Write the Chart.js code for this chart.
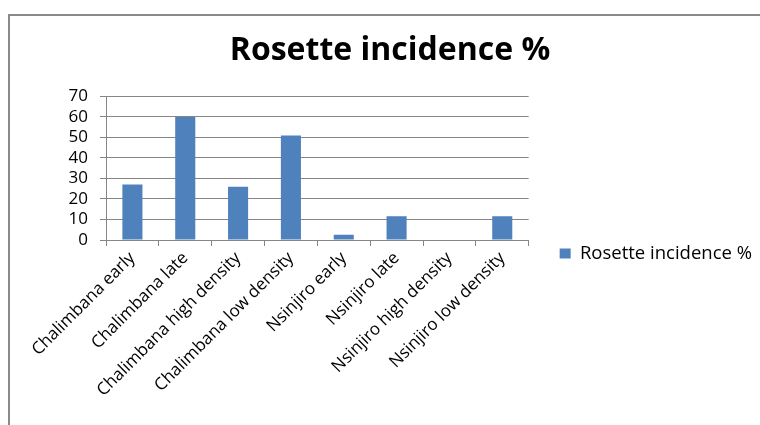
<!DOCTYPE html>
<html>
<head>
<meta charset="utf-8">
<script src="https://cdn.jsdelivr.net/npm/chart.js@4.4.0/dist/chart.umd.min.js"></script>
<style>
  html, body { margin: 0; padding: 0; background: #fff; overflow: hidden; }
  #frame {
    position: absolute; left: 8px; top: 14px; width: 900px; height: 600px;
    border-left: 2px solid #8a8a8a; border-top: 2px solid #8a8a8a;
  }
  #wrap { position: absolute; left: 18px; top: 0; width: 744px; height: 425px; }
</style>
</head>
<body>
<div id="frame"></div>
<div id="wrap"><canvas id="chart"></canvas></div>
<script>
const categories = [
  "Chalimbana early", "Chalimbana late", "Chalimbana high density", "Chalimbana low density",
  "Nsinjiro early", "Nsinjiro late", "Nsinjiro high density", "Nsinjiro low density"
];
const incidence = [27, 60, 26, 51, 2.5, 11.6, 0, 11.6];
const seriesName = "Rosette incidence %";
const yTicks = [0, 10, 20, 30, 40, 50, 60, 70];

const FONT = "'Open Sans', 'Liberation Sans', sans-serif";
const GRID = '#868686';

const ctx = document.getElementById('chart').getContext('2d');

new Chart(ctx, {
  type: 'bar',
  data: {
    labels: categories,
    datasets: [{
      label: seriesName,
      data: incidence,
      backgroundColor: '#4F81BD',
      borderWidth: 0,
      barPercentage: 0.38,
      categoryPercentage: 1
    }]
  },
  options: {
    responsive: true,
    maintainAspectRatio: false,
    animation: false,
    layout: { padding: 0 },
    plugins: {
      title: {
        display: true,
        text: seriesName,
        color: '#000',
        font: { family: FONT, size: 32, weight: 'bold' },
        padding: { top: 32, bottom: 26 }
      },
      legend: {
        position: 'right',
        maxWidth: 280,
        // empty legend title only pushes the entry down
        title: { display: true, text: ' ', font: { size: 10 }, padding: { top: 70, bottom: 0 } },
        labels: {
          color: '#000',
          font: { family: FONT, size: 18.5 },
          boxWidth: 11,
          boxHeight: 10,
          padding: 31
        }
      },
      tooltip: { enabled: false }
    },
    scales: {
      x: {
        afterFit: s => { s.height = 185; },
        grid: {
          offset: true,
          drawOnChartArea: false,
          color: GRID,
          tickLength: 6
        },
        border: { color: GRID },
        ticks: {
          color: '#000',
          font: { family: FONT, size: 17 },
          minRotation: 45,
          maxRotation: 45,
          autoSkip: false,
          padding: 2
        }
      },
      y: {
        min: 0,
        max: 70,
        afterFit: s => { s.width = 88; },
        afterBuildTicks: s => { s.ticks = yTicks.map(v => ({ value: v })); },
        grid: { color: GRID, tickLength: 6 },
        border: { color: GRID },
        ticks: {
          color: '#000',
          font: { family: FONT, size: 17 },
          autoSkip: false,
          padding: 12
        }
      }
    }
  }
});
</script>
</body>
</html>
